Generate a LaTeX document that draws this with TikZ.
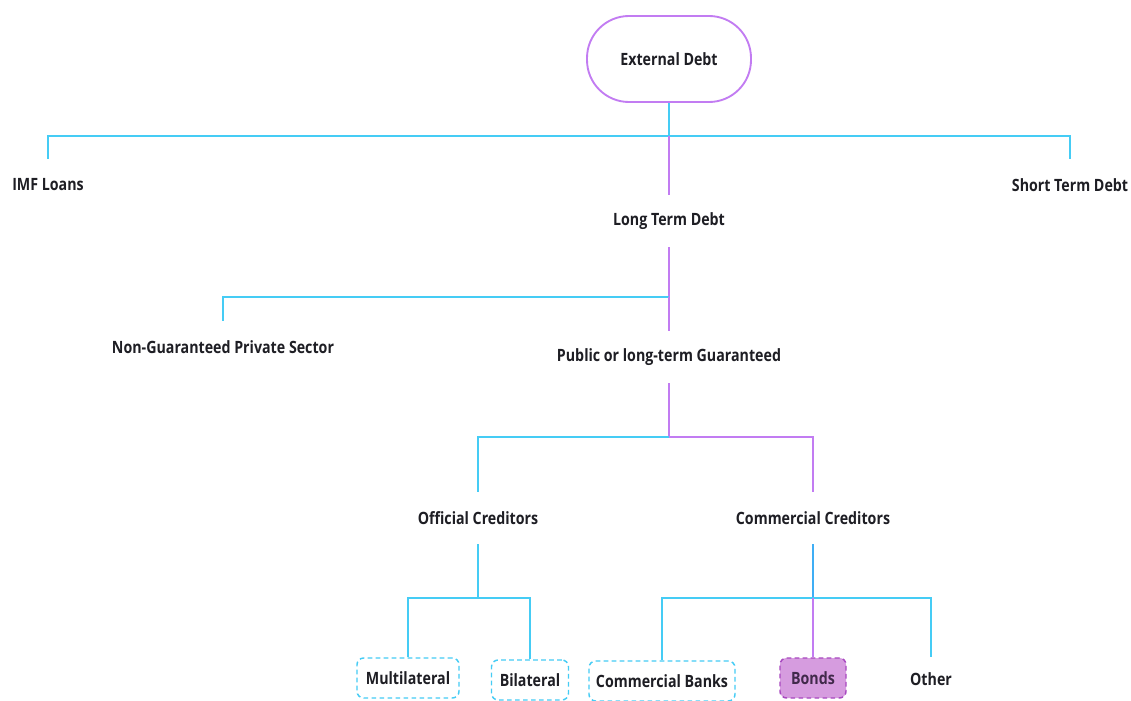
\documentclass[tikz,border=0pt]{standalone}
\usepackage{fontspec}
\setmainfont{Open Sans}[BoldFont={* Bold}, BoldFeatures={FakeStretch=0.84}]
\definecolor{linkblue}{HTML}{45CCF5}
\definecolor{linkpurple}{HTML}{C27CF2}
\definecolor{stemblue}{HTML}{3FAEF5}
\definecolor{bondfill}{HTML}{D69CDF}
\definecolor{bondedge}{HTML}{A848C0}
\definecolor{inktext}{HTML}{1E1E24}
\tikzset{
  x=0.75pt, y=-0.75pt,
  txt/.style={font=\bfseries\fontsize{12.7}{15}\selectfont, text=inktext, inner sep=0pt},
  lbl/.style={txt, minimum height=39pt},
  rootbox/.style={txt, draw=linkpurple, line width=1.4pt, rounded corners=31.5pt,
    minimum width=123pt, minimum height=64.5pt},
  leafbox/.style={txt, draw=linkblue, line width=1.1pt, dash pattern=on 3.5pt off 2.5pt,
    rounded corners=5pt, minimum height=30pt},
  bondbox/.style={leafbox, draw=bondedge, fill=bondfill, text=inktext!75!bondedge},
  bl/.style={draw=linkblue, line width=1.3pt},
  pl/.style={draw=linkpurple, line width=1.3pt},
}
\begin{document}
\begin{tikzpicture}
\useasboundingbox (0,0) rectangle (1131,700);
\fill[white] (0,0) rectangle (1131,700);

% nodes
\node[rootbox] (ext) at (669,59) {External Debt};
\node[lbl] (imf) at (48,185) {IMF Loans};
\node[lbl] (std) at (1070,185) {Short Term Debt};
\node[lbl] (ltd) at (669,221) {Long Term Debt};
\node[lbl] (ngp) at (223,347) {Non-Guaranteed Private Sector};
\node[lbl] (plg) at (669,357) {Public or long-term Guaranteed};
\node[lbl] (off) at (478,518) {Official Creditors};
\node[lbl] (com) at (813,518) {Commercial Creditors};
\node[leafbox, minimum width=76.5pt] (mul) at (408,678) {Multilateral};
\node[leafbox, minimum width=57.75pt] (bil) at (530,680) {Bilateral};
\node[leafbox, minimum width=109.5pt] (cbk) at (662,681) {Commercial Banks};
\node[bondbox, minimum width=49.5pt] (bnd) at (813,678) {Bonds};
\node[lbl] (oth) at (931,679) {Other};

% connector junctions
\coordinate (j1) at (669,136);
\coordinate (j2) at (669,297);
\coordinate (j3) at (669,437);
\coordinate (j4) at (478,598);
\coordinate (j5) at (813,598);

% level 1
\draw[bl] (ext.south) -- (j1);
\draw[bl] (j1) -| (imf.north);
\draw[bl] (j1) -| (std.north);
\draw[pl] (j1) -- (ltd.north);

% level 2
\draw[pl] (ltd.south) -- (j2);
\draw[bl] (j2) -| (ngp.north);
\draw[pl] (j2) -- (plg.north);

% level 3
\draw[pl] (plg.south) -- (j3);
\draw[bl] (j3) -| (off.north);
\draw[pl] (j3) -| (com.north);

% level 4
\draw[bl] (off.south) -- (j4);
\draw[bl] (j4) -| (mul.north);
\draw[bl] (j4) -| (bil.north);
\draw[draw=stemblue, line width=1.3pt] (com.south) -- (j5);
\draw[bl] (j5) -| (cbk.north);
\draw[bl] (j5) -| (oth.north |- mul.north);
\draw[pl] (j5) -- (bnd.north);
\end{tikzpicture}
\end{document}
